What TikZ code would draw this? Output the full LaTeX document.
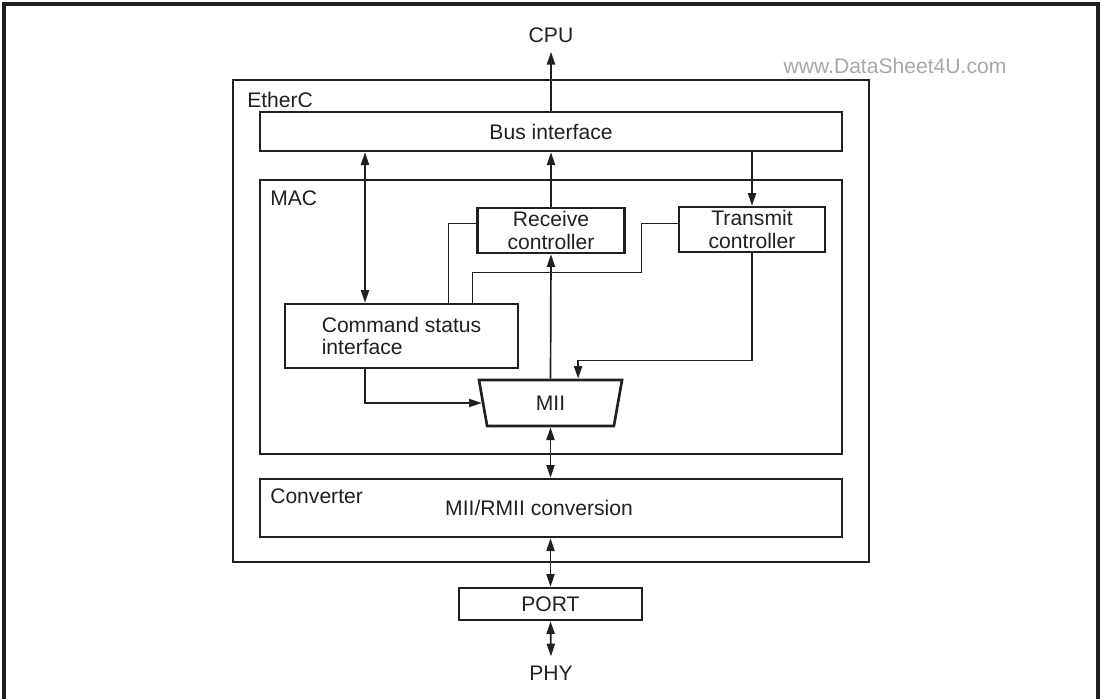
\documentclass[tikz,border=0pt]{standalone}
\usepackage{fontspec}
\setmainfont{Liberation Sans}
\usepackage{xcolor}
\usetikzlibrary{arrows.meta,calc,positioning,shapes.geometric}
\definecolor{inkgray}{HTML}{231F20}
\definecolor{markgray}{HTML}{A8A8A8}
\tikzset{
  unitbox/.style={draw=inkgray, line width=1.9pt, align=center, inner sep=2pt, text=inkgray},
  titlelabel/.style={anchor=west, inner sep=0pt, text=inkgray},
  ioname/.style={inner sep=6.5pt, text=inkgray},
  signal/.style={inkgray, -{Triangle[length=9pt,width=5.8pt]}, line width=1.2pt},
  biflow/.style={inkgray, {Triangle[length=9pt,width=5.8pt]}-{Triangle[length=9pt,width=5.8pt]}, line width=1.2pt},
  ctrlwire/.style={inkgray, line width=0.7pt}
}

\begin{document}
\begin{tikzpicture}[x=0.025cm, y=-0.025cm, font=\fontsize{15}{16}\selectfont]
  \useasboundingbox (0,0) rectangle (1103,699);
  \draw[inkgray, line width=2.4pt] (4,699) |- (1098,4) -- (1098,699);
  \node[text=markgray] (watermark) at (895,66) {www.DataSheet4U.com};

  % EtherC and its blocks
  \node[unitbox, minimum width=15.9cm, minimum height=12.05cm] (etherc) at (551,321) {};
  \node[titlelabel] (ethername) at (247,100) {EtherC};
  \node[unitbox, minimum width=14.55cm, minimum height=0.975cm] (bus) at (551,131.5) {Bus interface};
  \node[unitbox, minimum width=14.55cm, minimum height=6.85cm] (mac) at (551,317) {};
  \node[titlelabel] (macname) at (270,198) {MAC};
  \node[unitbox, minimum width=3.675cm, minimum height=1.125cm] (recv) at (551,230.5) {Receive\\controller};
  \node[unitbox, minimum width=3.65cm, minimum height=1.125cm] (trans) at (752,229.5) {Transmit\\controller};
  \node[unitbox, minimum width=5.825cm, minimum height=1.6cm, align=left] (cmd) at (401.5,336) {Command status\\interface};
  \node[unitbox, trapezium, shape border rotate=180, trapezium left angle=68, trapezium right angle=68,
        trapezium stretches body=true, minimum width=3.575cm, minimum height=1.15cm] (mii) at (550.5,403) {MII};
  \node[unitbox, minimum width=14.55cm, minimum height=1.45cm] (conv) at (551,508) {};
  \node[titlelabel] (convname) at (270,496) {Converter};
  \node[text=inkgray] (convtext) at (539,508) {MII/RMII conversion};
  \node[unitbox, minimum width=4.575cm, minimum height=0.8cm] (port) at (550.5,604) {PORT};
  \node[ioname] (cpu) at (551,35) {CPU};
  \node[ioname] (phy) at (551,673) {PHY};

  \coordinate (cmdtop) at ([xshift=-0.9125cm]cmd.north);
  \coordinate (cmdout) at ([xshift=-0.9125cm]cmd.south);
  \coordinate (miitap) at ([xshift=0.69cm]mii.north);
  \coordinate (recvwire) at ([xshift=1.1625cm]cmd.north);
  \coordinate (transwire) at ([xshift=1.7625cm]cmd.north);

  % data paths
  \draw[signal] (cpu.south |- bus.north) -- (cpu.south);
  \draw[signal] (recv.north) -- (recv.north |- bus.south);
  \draw[signal] (trans.north |- bus.south) -- (trans.north);
  \draw[biflow] (cmdtop |- bus.south) -- (cmdtop);
  \draw[signal] (mii.north) -- (recv.south);
  \draw[signal] (trans.south) -- ++(0,107) -| (miitap);
  \draw[signal] (cmdout) |- (mii.west);
  \draw[biflow] (mii.south) -- (mii.south |- conv.north);
  \draw[biflow] (port.north |- conv.south) -- (port.north);
  \draw[biflow] (port.south) -- (phy.north);

  % status wires
  \draw[ctrlwire] ([yshift=5.3pt]recv.west) -| (recvwire);
  \draw[ctrlwire] ([yshift=4.6pt]trans.west) -- ++(-36,0) -- ++(0,49) -| (transwire);
\end{tikzpicture}
\end{document}
